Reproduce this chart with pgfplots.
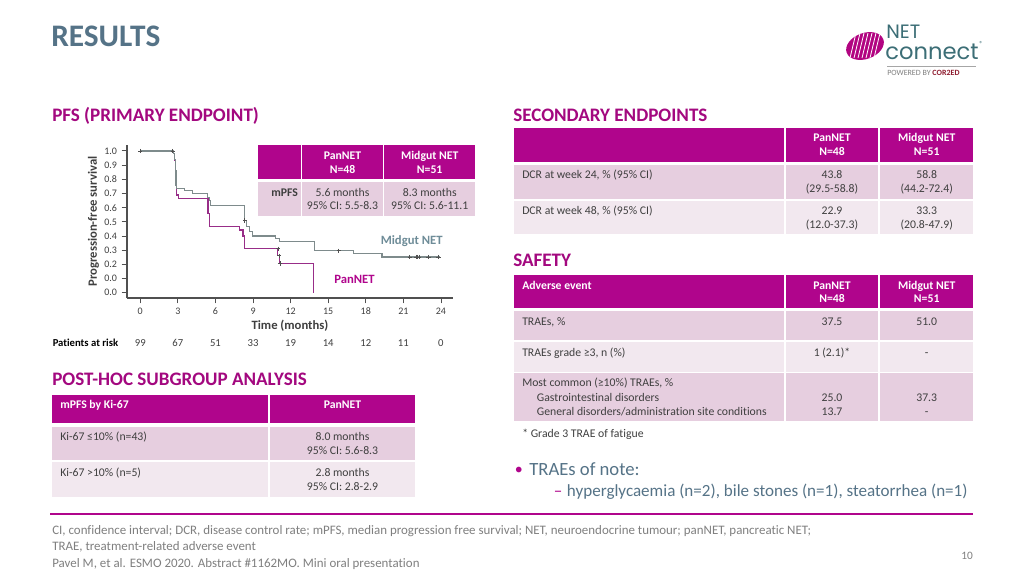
\documentclass[border=0pt]{standalone}
\usepackage{pgfplots}
\pgfplotsset{compat=1.18}
\usepackage{fontspec}
\setmainfont{Carlito}[Ligatures=NoCommon]
\newfontfamily\logofont{Poppins}
\definecolor{mag}{HTML}{B0058C}
\definecolor{secmag}{HTML}{A3087F}
\definecolor{pinkA}{HTML}{E6CEDF}
\definecolor{pinkB}{HTML}{F2E8EF}
\definecolor{txt}{HTML}{3F3F3F}
\definecolor{titleblue}{HTML}{557387}
\definecolor{gcurve}{HTML}{7E8B8C}
\definecolor{pcurve}{HTML}{982D88}
\definecolor{midlab}{HTML}{6E8C98}
\definecolor{axisgray}{HTML}{505050}
\definecolor{foot}{HTML}{7F7F7F}
\definecolor{teal}{HTML}{3C6E76}
\definecolor{cored}{HTML}{8E1B2E}
\newcommand{\fs}[1]{\fontsize{#1}{#1}\selectfont}
% text helpers (pixel coordinates)
\newcommand{\TL}[4][txt]{\node[anchor=base west,inner sep=0,text=#1,font=\fs{8.8}] at (#2,#3) {#4};}
\newcommand{\TC}[4][txt]{\node[anchor=base,inner sep=0,text=#1,font=\fs{8.8}] at (#2,#3) {#4};}
\newcommand{\HB}[3]{\node[anchor=base,inner sep=0,text=white,font=\bfseries\fs{8.8}] at (#1,#2) {#3};}
\newcommand{\HL}[3]{\node[anchor=base west,inner sep=0,text=white,font=\bfseries\fs{8.8}] at (#1,#2) {#3};}
\newcommand{\cell}[5]{\fill[#1] (#2,#3) rectangle (#4,#5);}
\begin{document}
\begin{tikzpicture}
\begin{scope}[x=0.75pt,y=-0.75pt]
\fill[white] (0,0) rectangle (1024,576);
\end{scope}

\begin{axis}[
  at={(95.25pt,-223.5pt)}, anchor=south west,
  scale only axis, width=244.5pt, height=114.75pt,
  xmin=-1.06, xmax=24.96, ymin=-0.037, ymax=1.042,
  axis lines=left, axis line style={-, line width=0.8pt, color=axisgray},
  xtick={0,3,6,9,12,15,18,21,24},
  ytick={0,0.1,0.2,0.3,0.4,0.5,0.6,0.7,0.8,0.9,1},
  yticklabels={0.0,0.0,0.2,0.3,0.4,0.5,0.6,0.7,0.8,0.9,1.0},
  tick align=outside, major tick length=4pt,
  tick style={line width=0.7pt, color=axisgray},
  tick label style={font=\fs{7.5}, text=txt},
  /pgf/number format/assume math mode=true,
  xlabel={Time (months)}, ylabel={Progression-free survival},
  label style={font=\bfseries\fs{9.5}, text=txt},
  xlabel shift=-3pt, ylabel shift=-3pt,
  clip=false,
]
\addplot[const plot, color=pcurve, line width=0.9pt] coordinates {
(0,1.0) (2.68,0.98) (2.75,0.93) (2.82,0.80) (2.88,0.69) (3.03,0.666)
(5.40,0.56) (5.52,0.466) (7.95,0.443) (8.2,0.40) (8.3,0.313)
(10.98,0.26) (11.12,0.207) (13.85,0.0)
};
\addplot[const plot, color=gcurve, line width=0.9pt] coordinates {
(0,1.0) (2.65,0.98) (2.72,0.94) (2.78,0.86) (2.85,0.76) (2.92,0.737)
(3.5,0.72) (4.18,0.70) (5.37,0.67) (5.5,0.65) (5.62,0.614)
(8.29,0.53) (8.35,0.51) (8.5,0.47) (8.7,0.43) (8.95,0.40)
(10.8,0.38) (11.1,0.36) (13.9,0.296) (17.0,0.275) (19.3,0.252) (23.9,0.252)
};
\addplot[only marks, mark=+, mark size=1.6pt, color=axisgray, mark options={line width=0.6pt}] coordinates {
(0,1.0) (2.6,1.0) (8.35,0.51) (15.85,0.296)
(21.5,0.252) (22.0,0.252) (22.1,0.252) (22.25,0.252) (23.0,0.252) (23.8,0.252)
(11.0,0.31) (11.08,0.26) (11.15,0.207)
};
\end{axis}

\begin{scope}[x=0.75pt,y=-0.75pt]
% title
\node[anchor=base west,inner sep=0,text=titleblue,font=\bfseries\fs{23.5}] at (51,46) {RESULTS};
% logo
\begin{scope}
\clip[rotate around={20:(865,46)}] (865,46) ellipse (19.5 and 13);
\fill[mag!85!purple] (840,25) rectangle (890,70);
\foreach \k in {0,...,6} {\draw[white,line width=0.6pt] (850+\k*4,58) -- (856+\k*4,33);}
\end{scope}
\node[anchor=base west,inner sep=0,text=teal,font=\logofont\fs{14.5}] at (886,38.5) {NET};
\node[anchor=base west,inner sep=0,text=teal,font=\logofont\fs{17}] at (885,59.5) {connect};
\node[anchor=base west,inner sep=0,text=teal,font=\fs{5.5}] at (979,46) {®};
\draw[gray!70,line width=0.9pt] (887,66.5) -- (976,66.5);
\node[anchor=base west,inner sep=0,font=\fs{6}] at (887,75.5) {\textcolor{gray}{POWERED BY }\textcolor{cored}{\bfseries COR2ED}};

% section headings
\node[anchor=base west,inner sep=0,text=secmag,font=\bfseries\fs{14.3}] at (52,121) {PFS (PRIMARY ENDPOINT)};
\node[anchor=base west,inner sep=0,text=secmag,font=\bfseries\fs{14.3}] at (513,121) {SECONDARY ENDPOINTS};
\node[anchor=base west,inner sep=0,text=secmag,font=\bfseries\fs{14.3}] at (513,266.7) {SAFETY};
\node[anchor=base west,inner sep=0,text=secmag,font=\bfseries\fs{14.3}] at (52,385) {POST-HOC SUBGROUP ANALYSIS};

% patients at risk
\node[anchor=base west,inner sep=0,text=black,font=\bfseries\fs{8}] at (52.5,346) {Patients at risk};
\foreach \v [count=\i from 0] in {99,67,51,33,19,14,12,11,0} {
  \node[anchor=base,inner sep=0,text=txt,font=\fs{8}] at (140.3+37.58*\i,346) {\v};
}
% curve labels
\node[anchor=base west,inner sep=0,text=midlab,font=\bfseries\fs{9.5}] at (380.5,244.3) {Midgut NET};
\node[anchor=base west,inner sep=0,text=mag,font=\bfseries\fs{9.5}] at (334,283.3) {PanNET};

% mPFS table
\cell{mag}{258.3}{145}{300.7}{179.3}
\cell{mag}{302.3}{145}{382.7}{179.3}
\cell{mag}{384.3}{145}{475}{179.3}
\cell{pinkA}{258.3}{181.7}{300.7}{215.7}
\cell{pinkA}{302.3}{181.7}{382.7}{215.7}
\cell{pinkA}{384.3}{181.7}{475}{215.7}
\HB{342.5}{159.3}{PanNET}
\HB{342.5}{173.3}{N=48}
\HB{429.7}{159.3}{Midgut NET}
\HB{429.7}{173.3}{N=51}
\node[anchor=base west,inner sep=0,text=txt,font=\bfseries\fs{8.8}] at (271,196) {mPFS};
\TC{342.5}{196}{5.6 months}
\TC{342.5}{209.5}{95\% CI: 5.5-8.3}
\TC{429.7}{196}{8.3 months}
\TC{429.7}{209.5}{95\% CI: 5.6-11.1}

% secondary endpoints table
\cell{mag}{514}{128.3}{784.3}{162.3}
\cell{mag}{786}{128.3}{878.3}{162.3}
\cell{mag}{880}{128.3}{973.3}{162.3}
\cell{pinkA}{514}{165}{784.3}{199}
\cell{pinkA}{786}{165}{878.3}{199}
\cell{pinkA}{880}{165}{973.3}{199}
\cell{pinkB}{514}{200.7}{784.3}{234}
\cell{pinkB}{786}{200.7}{878.3}{234}
\cell{pinkB}{880}{200.7}{973.3}{234}
\HB{832}{141.7}{PanNET}
\HB{832}{155.7}{N=48}
\HB{926.7}{141.7}{Midgut NET}
\HB{926.7}{155.7}{N=51}
\TL{522}{178.3}{DCR at week 24, \% (95\% CI)}
\TC{832}{178.3}{43.8}
\TC{832}{192.7}{(29.5-58.8)}
\TC{926.7}{178.3}{58.8}
\TC{926.7}{192.7}{(44.2-72.4)}
\TL{522}{214}{DCR at week 48, \% (95\% CI)}
\TC{832}{214}{22.9}
\TC{832}{228.3}{(12.0-37.3)}
\TC{926.7}{214}{33.3}
\TC{926.7}{228.3}{(20.8-47.9)}

% safety table
\cell{mag}{514}{275}{784.3}{308.3}
\cell{mag}{786}{275}{878.3}{308.3}
\cell{mag}{880}{275}{973.3}{308.3}
\cell{pinkA}{514}{311}{784.3}{340}
\cell{pinkA}{786}{311}{878.3}{340}
\cell{pinkA}{880}{311}{973.3}{340}
\cell{pinkB}{514}{341.7}{784.3}{371.7}
\cell{pinkB}{786}{341.7}{878.3}{371.7}
\cell{pinkB}{880}{341.7}{973.3}{371.7}
\cell{pinkA}{514}{373.3}{784.3}{421}
\cell{pinkA}{786}{373.3}{878.3}{421}
\cell{pinkA}{880}{373.3}{973.3}{421}
\HL{522}{289}{Adverse event}
\HB{832}{289}{PanNET}
\HB{832}{302.7}{N=48}
\HB{926.7}{289}{Midgut NET}
\HB{926.7}{302.7}{N=51}
\TL{522}{325}{TRAEs, \%}
\TC{832}{325}{37.5}
\TC{926.7}{325}{51.0}
\TL{522}{356.7}{TRAEs grade ≥3, n (\%)}
\TC{832}{356.7}{1 (2.1)*}
\TC{926.7}{356.7}{-}
\TL{522}{386.7}{Most common (≥10\%) TRAEs, \%}
\TL{536.7}{401}{Gastrointestinal disorders}
\TL{536.7}{415}{General disorders/administration site conditions}
\TC{832}{401}{25.0}
\TC{832}{415}{13.7}
\TC{926.7}{401}{37.3}
\TC{926.7}{415}{-}
\TL{522}{437.3}{* Grade 3 TRAE of fatigue}

% post-hoc table
\cell{mag}{52.3}{395}{268.3}{423.3}
\cell{mag}{270}{395}{415}{423.3}
\cell{pinkA}{52.3}{426.7}{268.3}{460}
\cell{pinkA}{270}{426.7}{415}{460}
\cell{pinkB}{52.3}{461.7}{268.3}{496.7}
\cell{pinkB}{270}{461.7}{415}{496.7}
\HL{60}{408.3}{mPFS by Ki-67}
\HB{342.5}{408.3}{PanNET}
\TL{60}{440.7}{Ki-67 ≤10\% (n=43)}
\TC{342.5}{440.7}{8.0 months}
\TC{342.5}{454.3}{95\% CI: 5.6-8.3}
\TL{60}{476}{Ki-67 >10\% (n=5)}
\TC{342.5}{476}{2.8 months}
\TC{342.5}{490}{95\% CI: 2.8-2.9}

% bullets
\node[anchor=base west,inner sep=0,text=mag,font=\fs{12}] at (514.5,474.5) {•};
\node[anchor=base west,inner sep=0,text=titleblue,font=\fs{14}] at (529,475.7) {TRAEs of note:};
\node[anchor=base west,inner sep=0,text=mag,font=\fs{12.8}] at (553.5,496.7) {–};
\node[anchor=base west,inner sep=0,text=titleblue,font=\fs{12.8}] at (566.7,496.7) {hyperglycaemia (n=2), bile stones (n=1), steatorrhea (n=1)};

% footer
\draw[mag,line width=1.5pt] (50,514) -- (973,514);
\node[anchor=base west,inner sep=0,text=foot,font=\fs{9.7}] at (52,534) {CI, confidence interval; DCR, disease control rate; mPFS, median progression free survival; NET, neuroendocrine tumour; panNET, pancreatic NET;};
\node[anchor=base west,inner sep=0,text=foot,font=\fs{9.7}] at (52,550) {TRAE, treatment-related adverse event};
\node[anchor=base west,inner sep=0,text=foot,font=\fs{9.7}] at (52,567) {Pavel M, et al. ESMO 2020. Abstract \#1162MO. Mini oral presentation};
\node[anchor=base east,inner sep=0,text=foot,font=\fs{8.5}] at (973,559) {10};
\end{scope}
\end{tikzpicture}
\end{document}
